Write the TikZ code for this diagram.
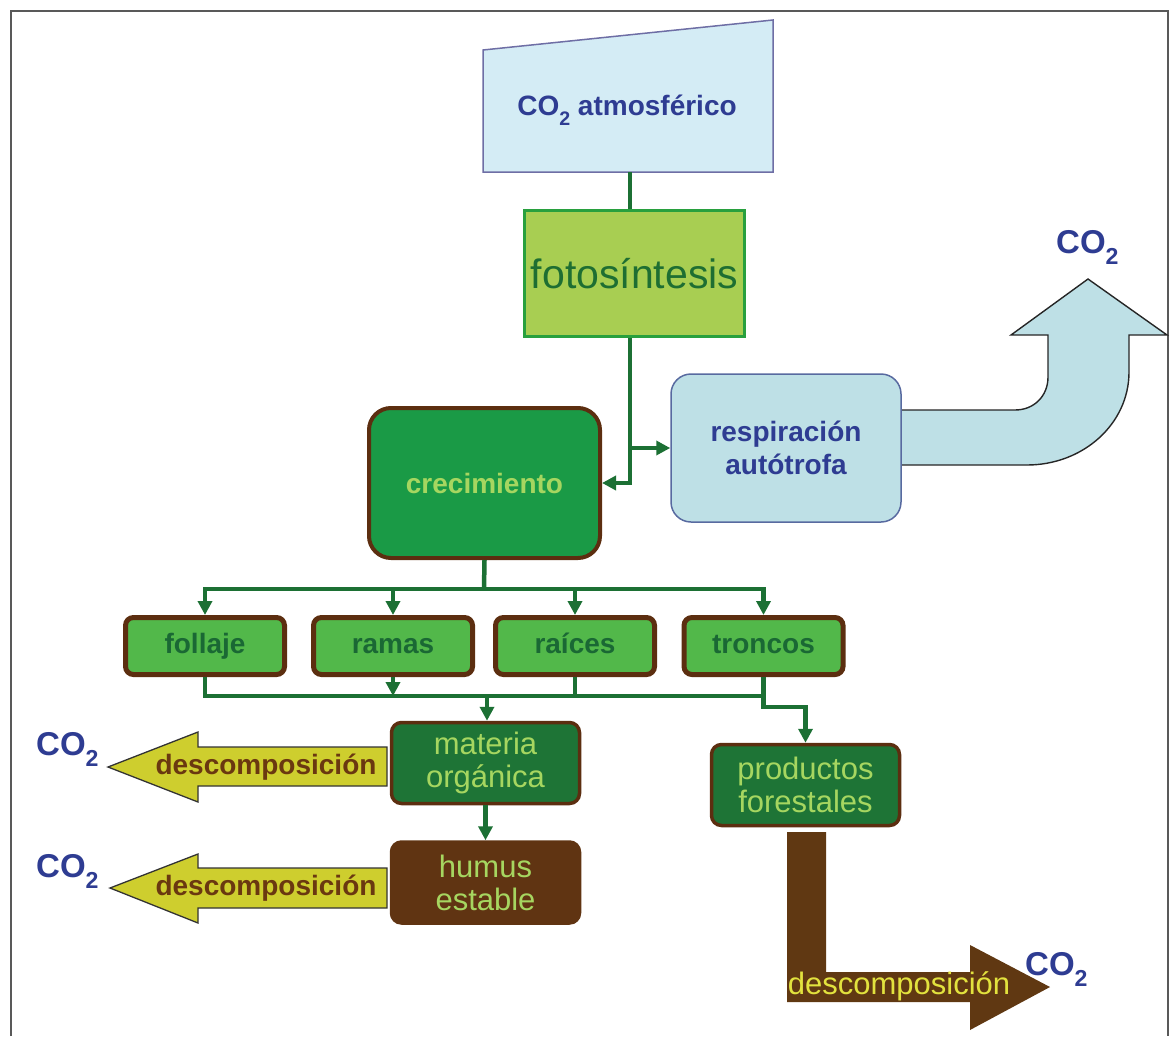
\documentclass[tikz,border=0pt]{standalone}
\usepackage{fontspec}
\setmainfont{Liberation Sans}
\usetikzlibrary{arrows.meta}

\definecolor{linkgreen}{RGB}{28,112,52}
\definecolor{bark}{RGB}{92,46,16}
\definecolor{leafgreen}{RGB}{82,184,74}
\definecolor{crecgreen}{RGB}{26,154,70}
\definecolor{darkleaf}{RGB}{30,116,54}
\definecolor{humusbrown}{RGB}{96,52,18}
\definecolor{leaftext}{RGB}{26,104,52}
\definecolor{paletext}{RGB}{166,214,96}
\definecolor{fotofill}{RGB}{168,206,82}
\definecolor{fotoedge}{RGB}{40,160,62}
\definecolor{fototext}{RGB}{30,110,50}
\definecolor{skyfill}{RGB}{190,224,230}
\definecolor{respedge}{RGB}{88,106,160}
\definecolor{atmfill}{RGB}{212,236,245}
\definecolor{atmedge}{RGB}{110,110,165}
\definecolor{navy}{RGB}{46,60,146}
\definecolor{olivefill}{RGB}{206,206,46}
\definecolor{olivetext}{RGB}{106,56,16}
\definecolor{decaybrown}{RGB}{96,56,18}
\definecolor{decayyellow}{RGB}{226,226,62}

\newcommand{\cotwo}{CO\raisebox{-0.36em}{\scalebox{0.7}{2}}}

\tikzset{
  link/.style={draw=linkgreen, line width=4.5pt},
  linkarrow/.style={link, -{Triangle[length=14pt,width=14pt]}},
  frameline/.style={draw=black!65, line width=1.5pt},
  atmshape/.style={fill=atmfill, draw=atmedge, line width=1.5pt},
  skyarrow/.style={fill=skyfill, draw=black!85, line width=1.4pt},
  olivearrow/.style={fill=olivefill, draw=black!80, line width=1.3pt},
  decayarrow/.style={fill=decaybrown},
  bigbold/.style={font=\bfseries\fontsize{28}{33}\selectfont},
  plaintext/.style={font=\fontsize{31}{33}\selectfont},
  co2label/.style={text=navy, font=\bfseries\fontsize{33}{36}\selectfont, inner sep=0pt, anchor=base west},
  leafbox/.style={draw=bark, line width=5pt, fill=leafgreen, rounded corners=8pt,
    minimum width=159pt, minimum height=57pt, inner sep=0pt, text height=21pt, text depth=6pt,
    text=leaftext, bigbold},
  soilbox/.style={draw=bark, line width=3.5pt, rounded corners=10pt,
    minimum width=188pt, minimum height=81pt, inner sep=0pt, text=paletext, plaintext, align=center}
}

\begin{document}
\begin{tikzpicture}[x=1pt,y=-1pt]
    \useasboundingbox (0,0) rectangle (1172,1036);
    \draw[frameline] (11,1036) -- (11,11) -- (1168,11) -- (1168,1036);

    \draw[atmshape] (483,50) -- (773,20) -- (773,172) -- (483,172) -- cycle;
    \node[text=navy, bigbold] (atm) at (627,110) {\cotwo\ atmosférico};
    \coordinate (atmbase) at (630,172);

    \draw[skyarrow] (880,410) -- (1015,410) .. controls (1034,410) and (1048,396) .. (1048,377)
        -- (1048,335) -- (1011,335) -- (1088,279) -- (1167,335) -- (1129,335) -- (1129,372)
        .. controls (1129,424) and (1083,465) .. (1027,465) -- (880,465);

    \begin{scope}[every node/.style={inner sep=0pt}]
        \node (foto) [draw=fotoedge, line width=3pt, fill=fotofill, minimum width=220pt, minimum height=126pt,
            text=fototext, font=\fontsize{41}{45}\selectfont] at (634.5,273.5) {fotosíntesis};
        \node (resp) [draw=respedge, line width=1.5pt, fill=skyfill, rounded corners=20pt, minimum width=230pt,
            minimum height=148pt, text=navy, bigbold, align=center] at (786,448) {respiración\\autótrofa};
        \node (crec) [draw=bark, line width=4pt, fill=crecgreen, rounded corners=22pt, minimum width=231pt,
            minimum height=150pt, text=paletext, bigbold] at (484.5,483) {crecimiento};
    \end{scope}

    \foreach \name/\x/\txt in {follaje/205/follaje, ramas/393/ramas, raices/575/raíces, troncos/763.5/troncos}
        \node[leafbox] (\name) at (\x,646) {\txt};

    \begin{scope}[every node/.style={soilbox}]
        \node (mat) [fill=darkleaf] at (485.5,763) {materia\\orgánica};
        \node (hum) [fill=humusbrown, draw=humusbrown] at (485.5,882.5) {humus\\estable};
        \node (prod) [fill=darkleaf] at (805.5,785) {productos\\forestales};
    \end{scope}

    \draw[olivearrow] (387,747) -- (198,747) -- (198,732) -- (108,767) -- (198,802) -- (198,786) -- (387,786) -- cycle;
    \node[text=olivetext, bigbold] (decmat) at (266,767) {descomposición};
    \draw[olivearrow] (387,868) -- (198,868) -- (198,854) -- (110,888) -- (198,923) -- (198,908) -- (387,908) -- cycle;
    \node[text=olivetext, bigbold] (dechum) at (266,888) {descomposición};

    \fill[decayarrow] (787,832) -- (826,832) -- (826,972) -- (970,972) -- (970,945) -- (1050,987)
        -- (970,1030) -- (970,1002) -- (787,1002) -- cycle;
    \node[text=decayyellow, plaintext] (decprod) at (899,986) {descomposición};

    \node[co2label] (co2resp) at (1056,253) {\cotwo};
    \node[co2label] (co2mat) at (36,755) {\cotwo};
    \node[co2label] (co2hum) at (36,877) {\cotwo};
    \node[co2label] (co2prod) at (1025,975) {\cotwo};

    \coordinate (fork) at (630,448);
    \coordinate (topbus) at (484,589);
    \coordinate (lowbus) at (487,696);

    \draw[link] (atmbase) -- (atmbase |- foto.north);
    \draw[linkarrow] (fork |- foto.south) -- (fork |- crec.east) -- (crec.east);
    \draw[linkarrow] (fork) -- (resp.west);
    \draw[link] (crec.south) -- (topbus);
    \draw[link, line cap=rect] (follaje.north |- topbus) -- (troncos.north |- topbus);
    \foreach \name in {follaje,ramas,raices,troncos}
        \draw[linkarrow] (\name.north |- topbus) -- (\name.north);
    \draw[link, line join=miter] (follaje.south) |- (lowbus) -- (lowbus -| troncos.south);
    \draw[linkarrow] (ramas.south) -- (ramas.south |- lowbus);
    \draw[link] (raices.south) -- (raices.south |- lowbus);
    \draw[linkarrow] (lowbus) -- (lowbus |- mat.north);
    \draw[linkarrow] (troncos.south) -- (troncos.south |- 0,707) -| (prod.north);
    \draw[linkarrow] (mat.south) -- (hum.north);
\end{tikzpicture}
\end{document}
